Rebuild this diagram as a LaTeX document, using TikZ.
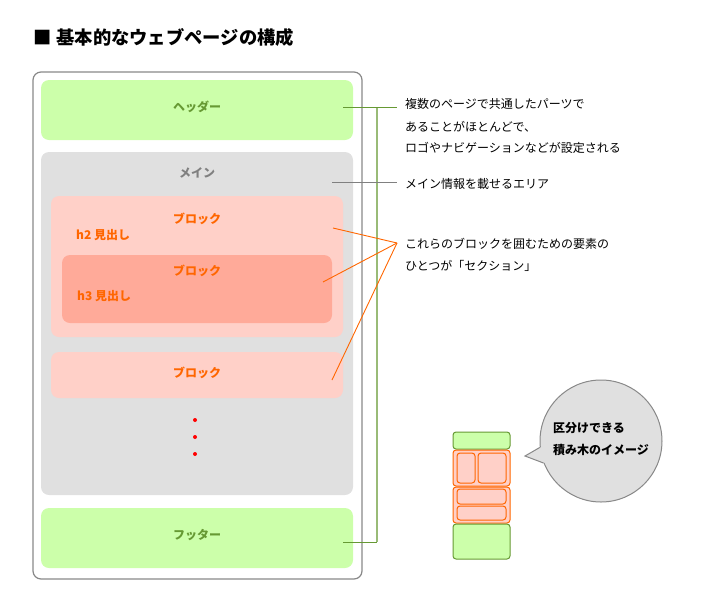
\documentclass[tikz,border=0pt]{standalone}
\usepackage{fontspec}
\setmainfont{Noto Sans CJK JP}
\definecolor{grnfill}{HTML}{CCFFAA}
\definecolor{grntext}{HTML}{669933}
\definecolor{grnline}{HTML}{99BB77}
\definecolor{mainfill}{HTML}{E0E0E0}
\definecolor{maintext}{HTML}{808080}
\definecolor{blockfill}{HTML}{FFD0C8}
\definecolor{innerfill}{HTML}{FFAA99}
\definecolor{blocktext}{HTML}{FF6600}
\definecolor{pageline}{HTML}{888888}

\begin{document}
\begin{tikzpicture}[x=1pt,y=-1pt,
		box/.style={rounded corners=8pt,inner sep=0pt},
		lbl/.style={font=\fontsize{12}{14}\selectfont\bfseries,inner sep=0pt},
		note/.style={font=\fontsize{12}{14}\selectfont,anchor=west,inner sep=0pt},
		mini/.style={rounded corners=3pt,inner sep=0pt,line width=1pt},
		dot/.style={circle,fill=red,inner sep=0pt,minimum size=4pt}]
		\useasboundingbox (0,0) rectangle (710,600);
		% title
		\node[anchor=west,inner sep=0pt,font=\fontsize{18.3}{20}\selectfont\bfseries] (title) at (33,37) {■\hspace{5pt}基本的なウェブページの構成};
		% page
		\node[box,draw=pageline,line width=1.2pt,minimum width=329pt,minimum height=507pt] (page) at (197.5,325.5) {};
		\node[box,fill=grnfill,minimum width=312pt,minimum height=60pt] (header) at (197,110) {};
		\node[box,fill=mainfill,minimum width=312pt,minimum height=343pt] (main) at (197,323.5) {};
		\node[box,fill=blockfill,minimum width=292pt,minimum height=141pt] (block1) at (197,266.5) {};
		\node[box,fill=innerfill,minimum width=270pt,minimum height=68pt] (block3) at (197,289) {};
		\node[box,fill=blockfill,minimum width=292pt,minimum height=46pt] (block2) at (197,375) {};
		\node[box,fill=grnfill,minimum width=312pt,minimum height=60pt] (footer) at (197,538) {};
		\node[lbl,text=grntext] (headerlbl) at (197,107) {ヘッダー};
		\node[lbl,text=maintext] (mainlbl) at (197,173) {メイン};
		\node[lbl,text=blocktext] (block1lbl) at (197,219) {ブロック};
		\node[lbl,text=blocktext,anchor=west] (h2lbl) at (76,235) {h2 見出し};
		\node[lbl,text=blocktext] (block3lbl) at (197,271) {ブロック};
		\node[lbl,text=blocktext,anchor=west] (h3lbl) at (77,296) {h3 見出し};
		\node[lbl,text=blocktext] (block2lbl) at (197,373) {ブロック};
		\node[lbl,text=grntext] (footerlbl) at (197,535) {フッター};
		\foreach \y/\n in {420/1,437/2,454/3}
			\node[dot] (dot\n) at (195,\y) {};
		% notes
		\node[note] (note1) at (405,104) {複数のページで共通したパーツで};
		\node[note] (note2) at (405,127) {あることがほとんどで、};
		\node[note] (note3) at (405,148) {ロゴやナビゲーションなどが設定される};
		\node[note] (note4) at (405,184) {メイン情報を載せるエリア};
		\node[note] (note5) at (405,244) {これらのブロックを囲むための要素の};
		\node[note] (note6) at (405,266) {ひとつが「セクション」};
		\coordinate (hdrend) at (343,107);
		\coordinate (hdrnote) at (397,107);
		\coordinate (ftrend) at (343,542);
		\coordinate (brtop) at (377,107);
		\coordinate (brbot) at (377,542);
		\coordinate (mainend) at (332,182);
		\coordinate (mainnote) at (397,182);
		\coordinate (sect) at (397,243);
		\coordinate (b1end) at (333,228);
		\coordinate (b3end) at (323,282);
		\coordinate (b2end) at (332,380);
		\draw[grnline,line width=1.2pt] (brtop) -- (brbot);
		\draw[grntext,line width=1pt] (hdrend) -- (hdrnote);
		\draw[grntext,line width=1pt] (ftrend) -- (brbot);
		\draw[maintext,line width=1pt] (mainend) -- (mainnote);
		\foreach \p in {b1end,b3end,b2end}
			\draw[blocktext,line width=0.9pt] (\p) -- (sect);
		% bubble
		\node[circle,fill=mainfill,draw=pageline,line width=1pt,minimum size=122pt,inner sep=0pt] (bubble) at (601,441) {};
		\coordinate (tip) at (525,456);
		\fill[mainfill] (bubble.186) -- (tip) -- (bubble.201) -- (bubble.center) -- cycle;
		\draw[pageline,line width=1pt] (bubble.186) -- (tip) -- (bubble.201);
		\node[lbl,anchor=west] (bub1) at (553,428) {区分けできる};
		\node[lbl,anchor=west] (bub2) at (553,450) {積み木のイメージ};
		% blocks stack
		\node[mini,fill=grnfill,draw=grntext,minimum width=57pt,minimum height=17pt] (minitop) at (481.5,440.5) {};
		\node[mini,fill=blockfill,draw=blocktext,minimum width=57pt,minimum height=36pt] (minib1) at (481.5,468) {};
		\node[mini,fill=blockfill,draw=blocktext,minimum width=18pt,minimum height=30pt] (minib1a) at (466,468) {};
		\node[mini,fill=blockfill,draw=blocktext,minimum width=28pt,minimum height=30pt] (minib1b) at (492,468) {};
		\node[mini,fill=blockfill,draw=blocktext,minimum width=57pt,minimum height=36pt] (minib2) at (481.5,505) {};
		\node[mini,fill=blockfill,draw=blocktext,minimum width=49pt,minimum height=15pt] (minib2a) at (481.5,496.5) {};
		\node[mini,fill=blockfill,draw=blocktext,minimum width=49pt,minimum height=14pt] (minib2b) at (481.5,513) {};
		\node[mini,fill=grnfill,draw=grntext,minimum width=57pt,minimum height=35pt] (minibot) at (481.5,541.5) {};
	\end{tikzpicture}
\end{document}
